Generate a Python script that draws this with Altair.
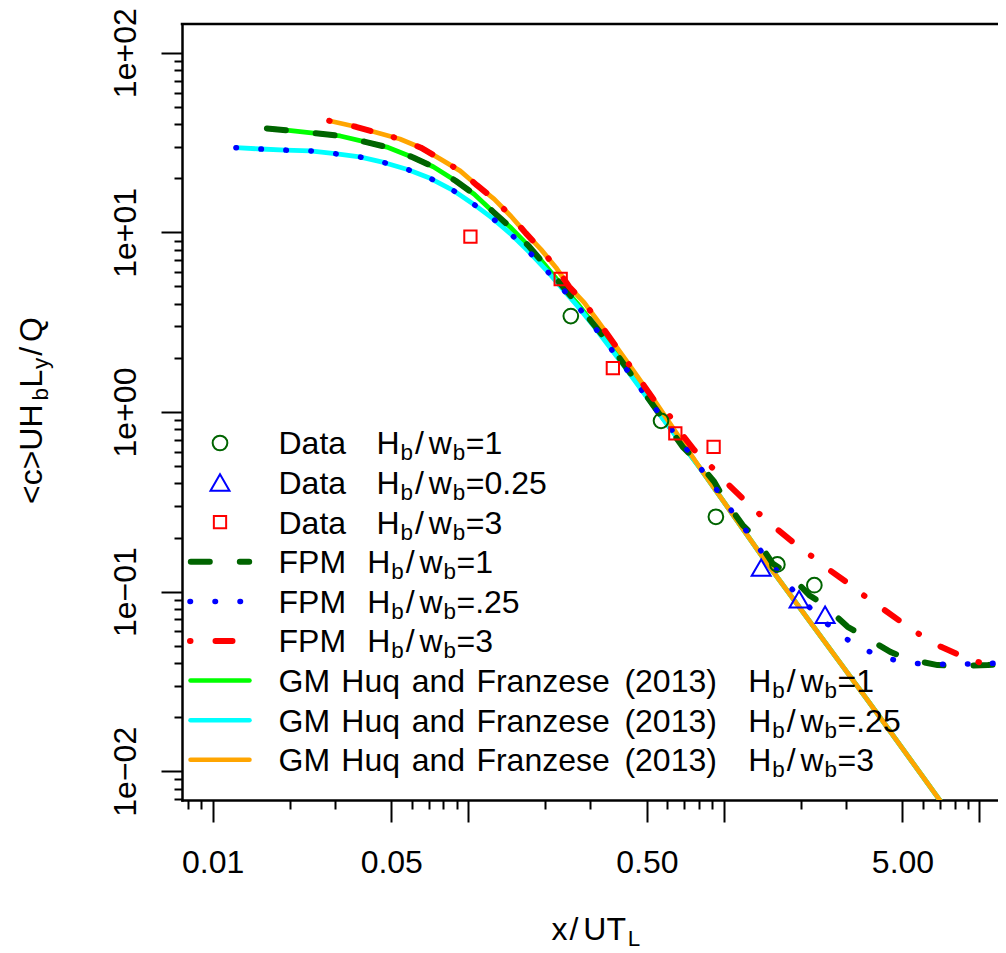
import altair as alt
import pandas as pd

FONT = "Liberation Sans"

# ---------------- values ----------------
# measured data points
DATA1_X = [0.252, 0.568, 0.931, 1.62, 2.26]
DATA1_Y = [3.42, 0.893, 0.261, 0.1417, 0.1086]
DATA025_X = [1.40, 1.97, 2.49]
DATA025_Y = [0.136, 0.0906, 0.0743]
DATA3_X = [0.102, 0.230, 0.368, 0.646, 0.912]
DATA3_Y = [9.46, 5.50, 1.756, 0.760, 0.640]

# FPM curves
FPM1_X = [0.01631, 0.02024, 0.02536, 0.03156, 0.03954, 0.0486, 0.0606, 0.0730, 0.0895, 0.1056,
          0.1253, 0.1470, 0.1733, 0.1983, 0.2375, 0.268, 0.368, 0.5265, 0.690, 0.790, 0.917, 1.01,
          1.185, 1.335, 1.552, 1.814, 2.159, 2.471, 3.05, 3.60, 4.48, 5.31, 6.86, 8.22, 10.8, 12.8]
FPM1_Y = [37.9, 36.8, 35.6, 34.4, 31.9, 29.7, 26.2, 23.2, 19.3, 16.3,
          13.0, 10.6, 8.32, 6.66, 4.88, 4.0, 2.25, 1.10, 0.640, 0.528, 0.409, 0.323,
          0.2346, 0.1978, 0.1436, 0.1236, 0.0956, 0.0841, 0.0637, 0.0556, 0.0462, 0.0419, 0.0390, 0.0386, 0.0390, 0.0398]
FPM025_X = [0.01234, 0.01545, 0.01923, 0.02409, 0.0301, 0.0376, 0.0467, 0.0579, 0.0710, 0.0869,
            0.1046, 0.1246, 0.1478, 0.1733, 0.2019, 0.234, 0.2704, 0.3112, 0.405, 0.5265, 0.6964,
            0.794, 0.909, 1.035, 1.185, 1.344, 1.777, 2.076, 2.435, 2.871, 3.49, 4.28, 5.35, 6.65,
            8.29, 10.4, 13.3]
FPM025_Y = [29.6, 29.1, 28.7, 28.4, 27.4, 26.3, 24.5, 22.4, 20.0, 17.2,
            14.4, 11.97, 9.70, 7.77, 6.17, 4.85, 3.82, 2.98, 1.82, 1.093, 0.654,
            0.506, 0.392, 0.302, 0.2325, 0.1808, 0.1096, 0.0866, 0.0694, 0.0570, 0.0480, 0.0427, 0.040, 0.0394,
            0.0394, 0.0398, 0.0400]
FPM3_X = [0.02858, 0.03636, 0.04486, 0.05404, 0.0653, 0.0782, 0.0930, 0.1081, 0.1264, 0.1470,
          0.1682, 0.1925, 0.2203, 0.2484, 0.2843, 0.3209, 0.41, 0.534, 0.5936, 0.669, 0.766, 0.869,
          1.01, 1.185, 1.347, 1.585, 1.876, 2.178, 2.57, 3.05, 3.56, 4.22, 5.01, 5.90, 7.07, 8.60,
          10.3, 12.6]
FPM3_Y = [41.8, 38.7, 35.6, 33.1, 29.6, 25.5, 22.0, 18.3, 15.3, 12.3,
          9.87, 8.04, 6.38, 4.98, 4.06, 3.22, 1.98, 1.165, 1.025, 0.786, 0.614, 0.517,
          0.412, 0.330, 0.278, 0.228, 0.187, 0.1597, 0.1329, 0.1119, 0.0944, 0.0796, 0.0668, 0.0572, 0.0493, 0.0435,
          0.0398, 0.0380]

# GM (Huq and Franzese 2013) curves
GM1_X = [0.01631, 0.02024, 0.02536, 0.03156, 0.03954, 0.0486, 0.0606, 0.0730, 0.0895, 0.1056,
         0.1253, 0.1470, 0.1733, 0.1983, 0.2375, 0.268, 0.368, 0.5265, 0.8135, 1.484, 3.65, 7.05]
GM1_Y = [37.9, 36.8, 35.6, 34.4, 31.9, 29.7, 26.2, 23.2, 19.3, 16.3,
         13.0, 10.6, 8.32, 6.66, 4.88, 4.0, 2.25, 1.10, 0.48, 0.1422, 0.0249, 0.0068]
GM025_X = [0.01234, 0.01545, 0.01923, 0.02409, 0.0301, 0.0376, 0.0467, 0.0579, 0.0710, 0.0869,
           0.1046, 0.1246, 0.1478, 0.1733, 0.2019, 0.234, 0.2704, 0.3112, 0.405, 0.5265, 0.8135,
           1.484, 3.65, 7.05]
GM025_Y = [29.6, 29.1, 28.7, 28.4, 27.4, 26.3, 24.5, 22.4, 20.0, 17.2,
           14.4, 11.97, 9.70, 7.77, 6.17, 4.85, 3.82, 2.98, 1.82, 1.093, 0.48,
           0.1422, 0.0249, 0.0068]
GM3_X = [0.02858, 0.03636, 0.04486, 0.05404, 0.0653, 0.0782, 0.0930, 0.1081, 0.1264, 0.1470,
         0.1682, 0.1925, 0.2203, 0.2484, 0.2843, 0.3209, 0.41, 0.534, 0.8135, 1.484, 3.65, 7.05]
GM3_Y = [41.8, 38.7, 35.6, 33.1, 29.6, 25.5, 22.0, 18.3, 15.3, 12.3,
         9.87, 8.04, 6.38, 4.98, 4.06, 3.22, 1.98, 1.165, 0.48, 0.1422, 0.0249, 0.0068]

# axes
X_DOMAIN = [0.00759, 11.82]
Y_DOMAIN = [0.006918, 144.5]
X_MAJOR = [0.01, 0.05, 0.1, 0.5, 1, 5, 10]
X_MAJOR_LABELS = ["0.01", "0.05", "", "0.50", "", "5.00", ""]
X_MINOR = [0.008, 0.009, 0.02, 0.03, 0.06, 0.07, 0.08, 0.09, 0.2, 0.3, 0.6, 0.7, 0.8, 0.9,
           2, 3, 6, 7, 8, 9]
Y_MAJOR = [0.01, 0.1, 1, 10, 100]
Y_MAJOR_LABELS = ["1e\u221202", "1e\u221201", "1e+00", "1e+01", "1e+02"]
Y_MINOR = [0.007, 0.008, 0.009,
           0.02, 0.03, 0.04, 0.05, 0.06, 0.07, 0.08, 0.09,
           0.2, 0.3, 0.4, 0.5, 0.6, 0.7, 0.8, 0.9,
           2, 3, 4, 5, 6, 7, 8, 9,
           20, 30, 40, 50, 60, 70, 80, 90]

# legend texts
LEG_PREFIX = ["Data   ", "Data   ", "Data   ", "FPM  ", "FPM  ", "FPM  ",
              "GM Huq and Franzese (2013)   ", "GM Huq and Franzese (2013)   ",
              "GM Huq and Franzese (2013)   "]
LEG_VALUE = ["=1", "=0.25", "=3", "=1", "=.25", "=3", "=1", "=.25", "=3"]

# ---------------- layout / style ----------------
PW, PH = 816, 776
PAD = {"left": 174, "top": 16, "right": 0, "bottom": 160}
FS = 32
FS_SUB = 22.4
SUB_SHIFT = 6
K = 1.04                     # the original face sets a little wider than Liberation Sans
SL_PRE, SL_POST = 1.5, 4.5   # extra room around the "/" sign
XT_BASE = 916                # x title baseline (plot coordinates)

W = {' ': 278, '(': 333, ')': 333, '.': 278, '/': 278, '<': 584, '=': 584, '>': 584,
     'D': 722, 'F': 611, 'G': 778, 'H': 722, 'L': 556, 'M': 833, 'P': 667, 'Q': 778,
     'T': 611, 'U': 722, 'a': 556, 'b': 556, 'c': 500, 'd': 556, 'e': 556, 'n': 556,
     'q': 556, 'r': 333, 's': 500, 't': 278, 'u': 556, 'w': 722, 'x': 500, 'y': 500, 'z': 500}


def tw(s, fs):
    return sum(W.get(c, 556) for c in s) * fs / 1000.0 * K


def layout(frags, x0):
    """frags: (text, is_sub, gap) -> list of (offset, text, size, shift); words placed one by one."""
    out = []
    pos = x0
    for t, sub, gap in frags:
        pos += gap
        fs = FS_SUB if sub else FS
        for j, word in enumerate(t.split(" ")):
            if j > 0:
                pos += tw(" ", fs)
            if word:
                out.append((pos, word, fs, SUB_SHIFT if sub else 0))
            pos += tw(word, fs)
    return out


xs = alt.Scale(type="log", domain=X_DOMAIN, nice=False)
ys = alt.Scale(type="log", domain=Y_DOMAIN, nice=False)


def expr(values, labels):
    s = ""
    for v, lab in zip(values, labels):
        s += f"datum.value == {v} ? '{lab}' : "
    return s + "''"


dummy = pd.DataFrame({"x": [1.0], "y": [1.0]})
axis_major = alt.Chart(dummy).mark_point(opacity=0).encode(
    x=alt.X("x:Q", scale=xs, axis=alt.Axis(
        orient="bottom", values=X_MAJOR, labelExpr=expr(X_MAJOR, X_MAJOR_LABELS),
        tickSize=22, tickWidth=2, tickColor="black", domain=True, domainColor="black",
        domainWidth=2.5, domainCap="square", labelFont=FONT, labelFontSize=FS,
        labelColor="black", labelBaseline="alphabetic", labelAlign="center",
        labelPadding=50, labelOverlap=False, labelFlush=False, grid=False, title=None)),
    y=alt.Y("y:Q", scale=ys, axis=alt.Axis(
        orient="left", values=Y_MAJOR, labelExpr=expr(Y_MAJOR, Y_MAJOR_LABELS),
        tickSize=21, tickWidth=2, tickColor="black", domain=True, domainColor="black",
        domainWidth=2.5, domainCap="square", labelFont=FONT, labelFontSize=FS,
        labelColor="black", labelAngle=270, labelAlign="center", labelBaseline="alphabetic",
        labelPadding=26, labelOverlap=False, labelFlush=False, grid=False, title=None)),
)
axis_minor = alt.Chart(dummy).mark_point(opacity=0).encode(
    x=alt.X("x:Q", scale=xs, axis=alt.Axis(
        orient="bottom", values=X_MINOR, labels=False, domain=False, tickSize=9,
        tickWidth=2, tickColor="black", grid=False, title=None)),
    y=alt.Y("y:Q", scale=ys, axis=alt.Axis(
        orient="left", values=Y_MINOR, labels=False, domain=False, tickSize=8,
        tickWidth=2, tickColor="black", grid=False, title=None)),
)


def line_layer(xv, yv, color, width, dash=None):
    kw = dict(color=color, strokeWidth=width, strokeCap="round", strokeJoin="round", clip=True)
    if dash:
        kw["strokeDash"] = dash
    return alt.Chart(pd.DataFrame({"x": xv, "y": yv})).mark_line(**kw).encode(
        x=alt.X("x:Q", scale=xs, axis=None), y=alt.Y("y:Q", scale=ys, axis=None))


def point_layer(xv, yv, color, shape, size):
    return alt.Chart(pd.DataFrame({"x": xv, "y": yv})).mark_point(
        shape=shape, filled=False, color=color, size=size, strokeWidth=2, opacity=1, clip=True
    ).encode(x=alt.X("x:Q", scale=xs, axis=None), y=alt.Y("y:Q", scale=ys, axis=None))


GREEN, CYAN, ORANGE = "#00FF00", "#00FFFF", "#FFA500"
DKGREEN, BLUE, RED = "#006400", "#0000FF", "#FF0000"
DASH1 = [19, 30]
DOT = [0.5, 24.5]
DOTDASH = [0.5, 25, 17, 24]

layers = [
    axis_major, axis_minor,
    line_layer(GM1_X, GM1_Y, GREEN, 4.8),
    line_layer(GM025_X, GM025_Y, CYAN, 4.8),
    line_layer(GM3_X, GM3_Y, ORANGE, 4.8),
    line_layer(FPM1_X, FPM1_Y, DKGREEN, 6, DASH1),
    line_layer(FPM025_X, FPM025_Y, BLUE, 5.5, DOT),
    line_layer(FPM3_X, FPM3_Y, RED, 6, DOTDASH),
    point_layer(DATA1_X, DATA1_Y, DKGREEN, "circle", 216),
    point_layer(DATA025_X, DATA025_Y, BLUE, "triangle-up", 361),
    point_layer(DATA3_X, DATA3_Y, RED, "square", 151),
]

# ---------------- legend (pixel positions inside the plot area) ----------------
LEG_X0, LEG_BASE0, LEG_STEP = 96.5, 430.3, 39.6
SYM_X, SYM_Y0 = 38, 419

rows = []
for i, (pre, val) in enumerate(zip(LEG_PREFIX, LEG_VALUE)):
    base = LEG_BASE0 + i * LEG_STEP
    frags = [(pre, False, 0), ("H", False, 0), ("b", True, 0), ("/", False, SL_PRE),
             ("w", False, SL_POST), ("b", True, 0), (val, False, 0)]
    for pos, t, fs, sh in layout(frags, LEG_X0):
        rows.append({"px": pos, "py": base + sh, "t": t, "fs": fs})

# x axis title
for pos, t, fs, sh in layout([("x", False, 0), ("/", False, SL_PRE), ("UT", False, SL_POST),
                              ("L", True, 0)], 369.4):
    rows.append({"px": pos, "py": XT_BASE + sh, "t": t, "fs": fs})

htext = alt.Chart(pd.DataFrame(rows)).mark_text(
    align="left", baseline="alphabetic", font=FONT, color="black"
).encode(x=alt.X("px:Q", scale=None, axis=None), y=alt.Y("py:Q", scale=None, axis=None),
         text="t:N", size=alt.Size("fs:Q", scale=None, legend=None))

# y axis title (rotated, reading upward)
vrows = []
for pos, t, fs, sh in layout([("<c>UH", False, 0), ("b", True, 0), ("L", False, 0), ("y", True, 0),
                              ("/", False, SL_PRE), ("Q", False, SL_POST)], 0):
    vrows.append({"px": -140.3 + sh, "py": 480 - pos, "t": t, "fs": fs})
vtext = alt.Chart(pd.DataFrame(vrows)).mark_text(
    align="left", baseline="alphabetic", font=FONT, color="black", angle=270
).encode(x=alt.X("px:Q", scale=None, axis=None), y=alt.Y("py:Q", scale=None, axis=None),
         text="t:N", size=alt.Size("fs:Q", scale=None, legend=None))

layers += [htext, vtext]

# legend symbols
def sym(i, shape, color, size):
    df = pd.DataFrame({"px": [SYM_X], "py": [SYM_Y0 + i * LEG_STEP]})
    return alt.Chart(df).mark_point(shape=shape, filled=False, color=color, size=size,
                                    strokeWidth=2, opacity=1).encode(
        x=alt.X("px:Q", scale=None, axis=None), y=alt.Y("py:Q", scale=None, axis=None))


def seg(i, x1, x2, color, width, dash=None):
    df = pd.DataFrame({"a": [x1], "b": [x2], "py": [SYM_Y0 + i * LEG_STEP]})
    kw = dict(color=color, strokeWidth=width, strokeCap="round")
    if dash:
        kw["strokeDash"] = dash
    return alt.Chart(df).mark_rule(**kw).encode(
        x=alt.X("a:Q", scale=None, axis=None), x2="b:Q",
        y=alt.Y("py:Q", scale=None, axis=None))


layers += [
    sym(0, "circle", DKGREEN, 216),
    sym(1, "triangle-up", BLUE, 361),
    sym(2, "square", RED, 151),
    seg(3, 8.8, 67.2, DKGREEN, 6, DASH1),
    seg(4, 8.0, 63.0, BLUE, 5.5, DOT),
    seg(5, 8.0, 50.5, RED, 6, DOTDASH),
    seg(6, 8.5, 67.5, GREEN, 4.5),
    seg(7, 8.5, 67.5, CYAN, 4.5),
    seg(8, 8.5, 67.5, ORANGE, 4.5),
]

# top border of the box
top = alt.Chart(dummy).mark_rule(color="black", strokeWidth=2.5, strokeCap="square").encode(
    x=alt.value(0), x2=alt.value(PW), y=alt.value(0))
layers.append(top)

chart = alt.layer(*layers).resolve_axis(x="independent", y="independent").properties(
    width=PW, height=PH, padding=PAD, autosize=alt.AutoSizeParams(type="none"),
    background="white",
).configure_view(stroke=None)

chart.save("out.html", embed_options={"renderer": "svg", "actions": False})
